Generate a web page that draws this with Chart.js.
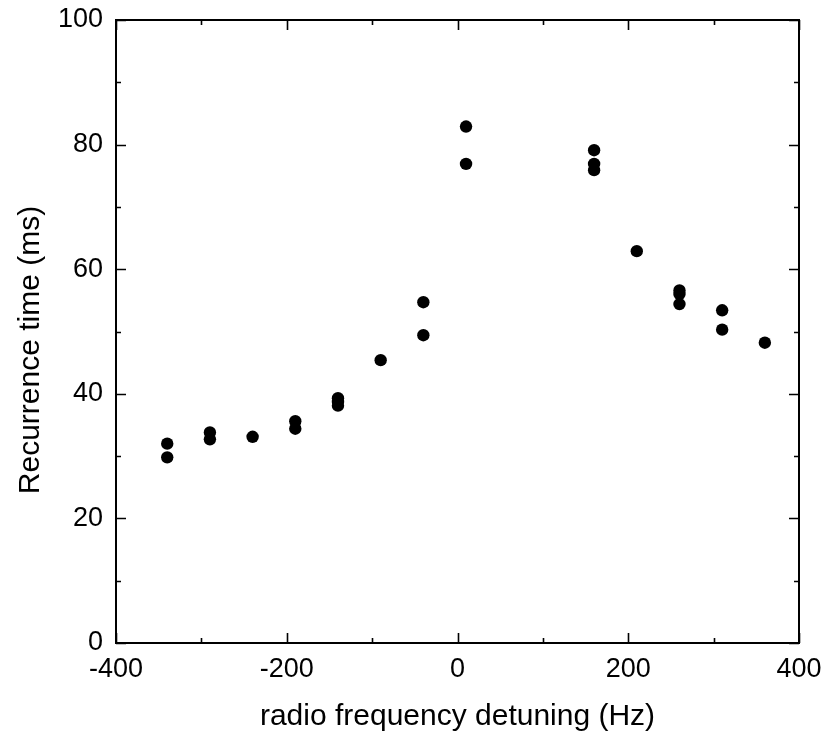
<!DOCTYPE html>
<html>
<head>
<meta charset="utf-8">
<script src="https://cdn.jsdelivr.net/npm/chart.js@4/dist/chart.umd.min.js"></script>
<style>
  html, body { margin: 0; padding: 0; background: #fff; }
  #wrap { width: 827px; height: 740px; }
</style>
</head>
<body>
<div id="wrap"><canvas id="c" width="827" height="740"></canvas></div>
<script>
// Detuning (Hz) and measured recurrence times (ms)
const detuning = [
  -340, -340,
  -290, -290,
  -240,
  -190, -190,
  -140, -140, -140,
  -90,
  -40, -40,
  10, 10,
  160, 160, 160,
  210,
  260, 260, 260,
  310, 310,
  360
];
const recurrence = [
  32.0, 29.8,
  33.8, 32.7,
  33.1,
  35.6, 34.4,
  39.3, 38.7, 38.1,
  45.4,
  54.7, 49.4,
  82.9, 76.9,
  79.1, 76.9, 75.9,
  62.9,
  56.6, 56.0, 54.4,
  53.4, 50.3,
  48.2
];
const xMajorTicks = [-400, -200, 0, 200, 400];
const xMinorTicks = [-300, -100, 100, 300];
const yMajorTicks = [0, 20, 40, 60, 80, 100];
const yMinorTicks = [10, 30, 50, 70, 90];
const xTitle = 'radio frequency detuning (Hz)';
const yTitle = 'Recurrence time (ms)';

const points = detuning.map((x, i) => ({ x: x, y: recurrence[i] }));

const FONT = "'Liberation Sans', Arial, Helvetica, sans-serif";

// Closed frame with inward-pointing major and minor ticks on all four sides,
// plus the vertical axis caption
const frameTicks = {
  id: 'frameTicks',
  afterDraw(chart) {
    const { ctx, chartArea: a, scales } = chart;
    const xs = scales.x, ys = scales.y;
    ctx.save();
    ctx.strokeStyle = '#000';
    ctx.lineWidth = 2;
    ctx.strokeRect(a.left, a.top, a.right - a.left, a.bottom - a.top);
    ctx.lineWidth = 1.6;
    ctx.beginPath();
    const xt = (vals, len) => vals.forEach(v => {
      const px = Math.round(xs.getPixelForValue(v)) + 0.5;
      ctx.moveTo(px, a.bottom); ctx.lineTo(px, a.bottom - len);
      ctx.moveTo(px, a.top); ctx.lineTo(px, a.top + len);
    });
    const yt = (vals, len) => vals.forEach(v => {
      const py = Math.round(ys.getPixelForValue(v)) + 0.5;
      ctx.moveTo(a.left, py); ctx.lineTo(a.left + len, py);
      ctx.moveTo(a.right, py); ctx.lineTo(a.right - len, py);
    });
    xt(xMajorTicks, 10); xt(xMinorTicks, 5);
    yt(yMajorTicks, 10); yt(yMinorTicks, 5);
    ctx.stroke();

    // vertical caption, set slightly below the plot's mid-height
    ctx.translate(31, 350);
    ctx.rotate(-Math.PI / 2);
    ctx.fillStyle = '#000';
    ctx.font = '30px ' + FONT;
    ctx.textAlign = 'center';
    ctx.textBaseline = 'middle';
    ctx.fillText(yTitle, 0, 0);
    ctx.restore();
  }
};

new Chart(document.getElementById('c'), {
  type: 'scatter',
  data: {
    datasets: [{
      data: points,
      backgroundColor: '#000',
      borderColor: '#000',
      borderWidth: 0,
      pointRadius: 6.2,
      pointHoverRadius: 6.2
    }]
  },
  options: {
    responsive: false,
    animation: false,
    events: [],
    layout: { padding: { top: 20, right: 28, left: 0, bottom: 0 } },
    plugins: { legend: { display: false }, tooltip: { enabled: false } },
    scales: {
      x: {
        type: 'linear',
        min: -400, max: 400,
        afterFit(s) {
          s.height = 97;
          s.paddingLeft = 0; s.paddingRight = 0;
        },
        grid: { display: false, drawTicks: false },
        border: { display: false },
        ticks: {
          stepSize: 200,
          padding: 10,
          color: '#000',
          font: { family: FONT, size: 27 },
          maxRotation: 0
        },
        title: {
          display: true,
          text: xTitle,
          color: '#000',
          font: { family: FONT, size: 30 },
          padding: { top: 0, bottom: 5 }
        }
      },
      y: {
        type: 'linear',
        min: 0, max: 100,
        afterFit(s) {
          s.width = 116;
          s.paddingTop = 0; s.paddingBottom = 0;
        },
        grid: { display: false, drawTicks: false },
        border: { display: false },
        ticks: {
          stepSize: 20,
          padding: 13,
          color: '#000',
          font: { family: FONT, size: 27 }
        }
      }
    }
  },
  plugins: [frameTicks]
});
</script>
</body>
</html>
